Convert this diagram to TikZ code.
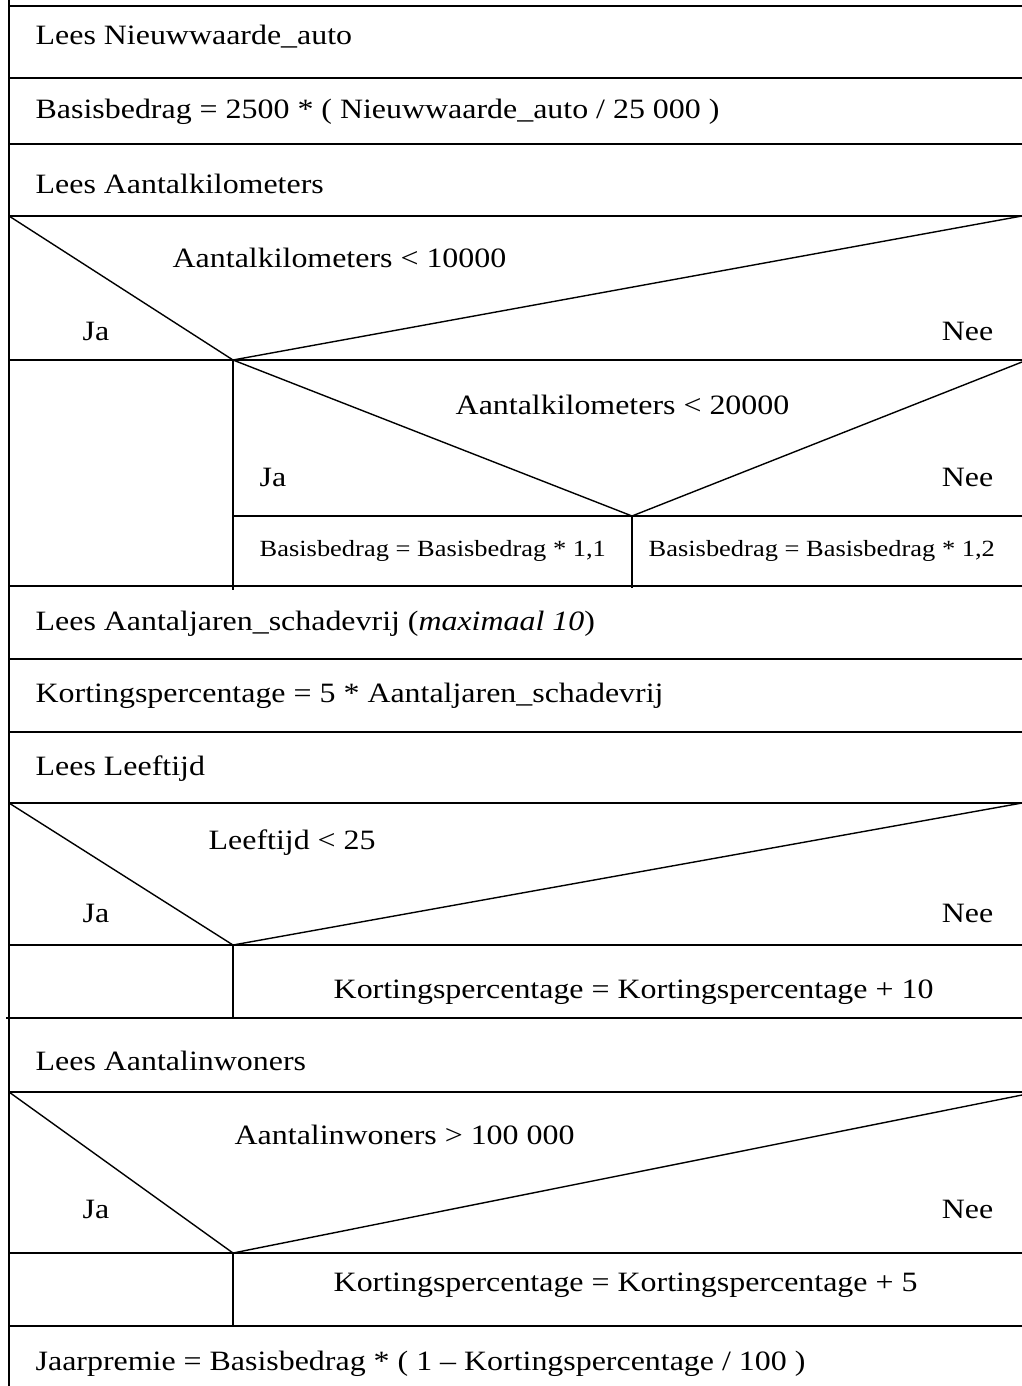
\documentclass[tikz,border=0pt]{standalone}
\usepackage{fontspec,tikz}
\setmainfont{Liberation Serif}[FakeStretch=1.14]

\begin{document}
\begin{tikzpicture}[x=1pt,y=-1pt,line width=1.4pt,
  txt/.style={anchor=base west,inner sep=0pt,font=\fontsize{28.0}{33.6}\selectfont},
  txtr/.style={anchor=base east,inner sep=0pt,font=\fontsize{28.0}{33.6}\selectfont},
  small/.style={anchor=base west,inner sep=0pt,font=\fontsize{23.2}{27.8}\selectfont}]
\path[use as bounding box] (0,0) rectangle (1022.0,1386.0);
% frame
\draw (9,0) -- (9,1386);
\draw (9,6) -- (1022,6);
\node[txt] (lees1) at (35,45) {Lees Nieuwwaarde\_auto};
\draw (9,78) -- (1022,78);
\node[txt] (basis) at (35,118) {Basisbedrag = 2500 * ( Nieuwwaarde\_auto / 25 000 )};
\draw (9,144) -- (1022,144);
\node[txt] (lees2) at (35,193) {Lees Aantalkilometers};
\draw (9,216) -- (1022,216);
% keuze 1
\draw (9,216) -- (233,360) -- (1022,216);
\node[txt] (km1) at (172,267) {Aantalkilometers < 10000};
\node[txt] (ja1) at (82,340) {Ja};
\node[txtr] (nee1) at (994,340) {Nee};
\draw (9,360) -- (1022,360);
\draw (233,360) -- (233,590);
% keuze 2
\draw (233,360) -- (632,516) -- (1022,362);
\node[txt] (km2) at (455,414) {Aantalkilometers < 20000};
\node[txt] (ja2) at (259,486) {Ja};
\node[txtr] (nee2) at (994,486) {Nee};
\draw (233,516) -- (1022,516);
\draw (632,516) -- (632,588);
\node[small] (mal1) at (259,556) {Basisbedrag = Basisbedrag * 1,1};
\node[small] (mal2) at (648,556) {Basisbedrag = Basisbedrag * 1,2};
\draw (9,586) -- (1022,586);
\node[txt] (lees3) at (35,630) {Lees Aantaljaren\_schadevrij (\textit{maximaal 10})};
\draw (9,659) -- (1022,659);
\node[txt] (kort1) at (35,702) {Kortingspercentage = 5 * Aantaljaren\_schadevrij};
\draw (9,732) -- (1022,732);
\node[txt] (lees4) at (35,775) {Lees Leeftijd};
\draw (9,803) -- (1022,803);
% keuze 3
\draw (9,803) -- (233,945) -- (1022,803);
\node[txt] (lft) at (208,849) {Leeftijd < 25};
\node[txt] (ja3) at (82,922) {Ja};
\node[txtr] (nee3) at (994,922) {Nee};
\draw (9,945) -- (1022,945);
\draw (233,945) -- (233,1018);
\node[txt] (kort2) at (333,998) {Kortingspercentage = Kortingspercentage + 10};
\draw (6,1018) -- (1022,1018);
\node[txt] (lees5) at (35,1070) {Lees Aantalinwoners};
\draw (9,1092) -- (1022,1092);
% keuze 4
\draw (9,1092) -- (233,1253) -- (1022,1095);
\node[txt] (inw) at (234,1144) {Aantalinwoners > 100 000};
\node[txt] (ja4) at (82,1218) {Ja};
\node[txtr] (nee4) at (994,1218) {Nee};
\draw (9,1253) -- (1022,1253);
\draw (233,1253) -- (233,1326);
\node[txt] (kort3) at (333,1291) {Kortingspercentage = Kortingspercentage + 5};
\draw (9,1326) -- (1022,1326);
\node[txt] (premie) at (35,1370) {Jaarpremie = Basisbedrag * ( 1 – Kortingspercentage / 100 )};
\end{tikzpicture}
\end{document}
